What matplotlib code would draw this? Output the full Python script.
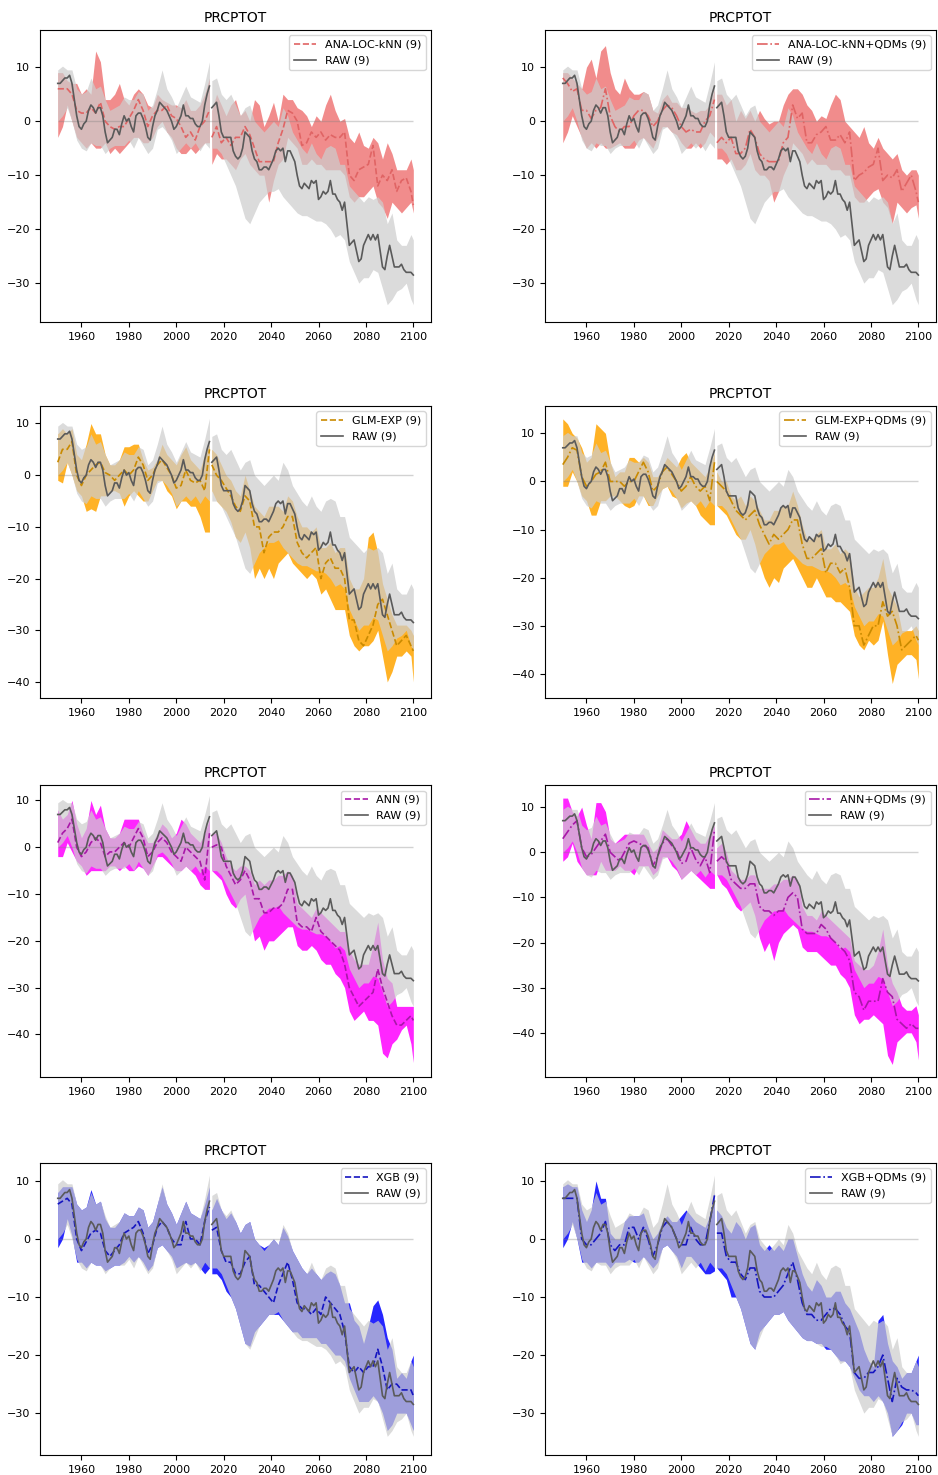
import numpy as np
import matplotlib.pyplot as plt

# year grids (historical run / scenario run are drawn separately)
yrs_h = np.arange(1950, 2015, 2)
yrs_f = np.append(np.arange(2015, 2100, 2), 2100)
raw_yrs_h = np.arange(1950, 2015)
raw_yrs_f = np.arange(2015, 2101)

# RAW ensemble mean (annual)
raw_mean_h = [7, 7, 7.5, 8, 8, 8.5, 7, 4, 1, -1,
              -1.5, -0.5, 0, 2, 3, 2.5, 1.5, 2.5, 2.5, 1,
              -2, -4, -3.5, -3, -1.5, -1.5, -2.5, -0.5, 1, 0,
              0.5, -1, -2, 1, 1.5, 1.5, 0.5, -1, -3, -3.5,
              -1, 1, 2, 3.5, 3, 2.5, 2, 1, 0, -1.5,
              -1, 0, 1, 3, 1, 1, 0.5, 0.5, -0.5, -1,
              -1, 0, 3, 5, 6.5]
raw_mean_f = [2.5, 3, 3.5, 1, -2,
              -3, -3, -3, -3, -5.5, -6.5, -7, -6.5, -5, -2,
              -2.5, -3, -5.5, -7, -7.5, -9, -9, -8.5, -8.5, -9,
              -8, -7, -5.5, -5, -5.5, -5, -7.5, -5.5, -5.5, -6.5,
              -7.5, -10, -12, -12.5, -11.5, -12, -12.5, -11, -11.5, -11,
              -14.5, -14, -13, -13.5, -13, -11, -13.5, -13.5, -14.5, -15,
              -16.5, -15, -19, -23, -22.5, -22, -24, -26, -25.5, -23,
              -22, -21, -22, -21, -22, -21, -24, -27, -27.5, -25,
              -23, -25, -27, -27, -27, -26.5, -27.5, -28, -28, -28,
              -28.5]

# RAW ensemble spread (every 2nd year, hist 33 + future 44 values)
raw_hi = [9.5, 10.2, 9.5, 9.5, 6, 5, 5.5, 8, 6, 6.5, 4, 2, 2.5, 3, 4.5, 4, 4, 5.5, 5, 2,
          3, 6, 9.5, 6, 4.5, 2.5, 4.5, 6.5, 4.5, 4, 3.5, 7, 11,
          7.5, 8, 5, 4, 5, 3, 1, 2.5, 3, 0, -1, -2, -1, 0, -1, 2.5, 1, -2, -3.5, -5,
          -6, -4, -6, -7, -5, -4.5, -5, -8, -8, -12, -13, -14, -15, -14, -14.5, -14, -15, -19, -17, -22,
          -23, -23, -21, -22]
raw_lo = [0, 1, 2.5, 0, -3.5, -5, -5.5, -4, -4.5, -4.5, -6, -5, -4.5, -4.5, -4.5, -3.5, -5, -3, -4.5, -6,
          -5, -1.5, -1, -2, -3.5, -6, -5, -4, -5, -4, -5.5, -4, -5,
          -5, -5, -6, -8, -10, -12, -15, -18, -19, -17, -15, -14, -13, -13, -12.5, -14, -15, -16, -17, -17.5,
          -17.5, -18, -18.5, -18.5, -19, -20, -21.5, -21, -22, -26, -28, -30, -29, -29, -27.5, -28, -31, -34, -33, -31.5,
          -31, -30, -33, -34]

# ANA-LOC-kNN
knn_mean = [6, 6, 6, 5, 2, 1.5, 1.5, 2.5, 1.5, 3.5, 0, -1, -1.5, -1, -1, 0.5, 2, 4, 2, -1,
            1, 2, 2, 3, 1, 0.5, -1, -3, -2, -3.5, -1, 0, 2,
            -3, -1, -4, -3, -4.5, -3, -3, -1, -2.5, -5, -7.5, -7.5, -7.5, -7.5, -4, -1.5, 2, 1.5, 0, -4.5,
            -4, -2, -3, -2, -3.5, -2.5, -3, -3, -2, -10, -11, -9, -8.5, -8, -4.5, -12, -10, -11, -9, -13,
            -11, -10.5, -13, -15.5]
knn_hi = [9, 9, 7.5, 7, 7, 5, 6, 5, 13, 11, 4, 4, 5, 7, 4, 3, 5, 6, 5, 3,
          2.5, 5, 4, 3.5, 3, 3, 2.5, 4, 2, 2, 3, 5, 8,
          2, 5, 3, 1, 3, 4, 1, 2, 0, 4, 3, -1, 1, 3.5, 0, 5, 4, 4, 2.5, 2,
          1, -1, 1, 0, 3, 5, 2, 0, 0.5, -3, -4, -2, -4.5, -5, -3, -4, -7, -4, -6, -9,
          -9, -9, -7, -9]
knn_lo = [-3, -1, 3, 0, -3, -4, -5, -4, -5, -5, -4, -6, -5, -6, -5, -4, -3, -3, -4, -4,
          -3, -1, 0, -2, -3, -5, -6, -6, -5, -6, -5, -4, -4,
          -8, -6, -7, -7, -8, -9, -7, -6, -8, -9, -10, -10, -15, -11, -8, -7, -3, -4, -5, -8,
          -8, -7, -8, -8, -9, -9, -9, -9, -10, -14, -15, -14, -14, -13, -12, -15, -16, -18, -15, -16,
          -17, -16, -15, -17]

# ANA-LOC-kNN+QDMs
knnq_mean = [8, 7, 5.5, 6, 2, 2, 0.5, 2, 2.5, 6, 1, -1, -2, -1, -1, 1, 2, 2, 1, -1,
             0, 2, 3, 2.5, 1, -1, -2, -1.5, -2, -2, 0, 1, 4,
             -4, -3, -4, -3, -6, -6, -5, -1.5, -3, -6, -7, -7.5, -7.5, -7.5, -4, -3, 3, 0.5, 1.5, -4,
             -4, -2.5, -2, -1, -3.5, -3.5, -2.5, -4, -2, -11, -10, -9.5, -8.5, -8, -5, -11, -10, -10.5, -9, -13,
             -11.5, -10, -13, -15]
knnq_hi = [9, 9, 8, 7, 6, 10, 11.5, 8, 13, 14, 9, 6, 5, 8, 6, 5, 5, 5.5, 5, 2,
           1.5, 4, 5, 3.5, 3.5, 2.5, 2.5, 2, 1.5, 2, 2, 3, 6,
           5, 5, 3, 4, 0, 2, 0.5, 2, 0, 2, 0.5, -0.5, 0, 0, 3, 5, 6, 6, 5, 3,
           2, 0, 1, 0.5, 3, 5, 4, 0, -1, -2, -3, -1, -4, -5, -3, -5, -6, -7, -6, -9,
           -10, -9, -9, -10]
knnq_lo = [-4, -2, 1, -1, -3, -5, -4, -5, -4, -5, -5, -4.5, -4, -5, -5, -5, -3.5, -3, -4, -5,
           -3, -1, -1, -2, -2.5, -4, -5, -5, -4, -5, -4, -2, -3,
           -7, -7, -8, -7, -9, -9, -8, -6, -9, -10, -10, -11, -15, -13, -10, -8, -4, -5, -6, -8,
           -7, -8, -8, -8, -9, -9, -9, -10, -10, -14, -15, -15, -14, -13, -12.5, -15, -16, -19, -15, -16,
           -17, -16, -15.5, -18]

# GLM-EXP
glm_mean = [2.5, 5, 5, 6.5, 0, -2, 0, 1, 2, 2.5, 0.5, 0, -1, 0, 1, 0, 1, 3.5, 2, -1,
            0, 2, 3, 1.5, 0, -2.5, -2, 1, -1, -1.5, -1, -3, 5,
            2, 0, -1, -2.5, -4, -6, -7, -4, -5, -10, -10, -15, -12, -11, -11, -10, -8, -8, -13, -15,
            -16, -15, -14, -20, -17, -16, -18, -18, -20, -28, -28, -32, -33, -31, -29, -25, -24, -27, -30, -33,
            -32, -31, -33, -34]
glm_hi = [8, 9, 8, 9, 4, 3, 6, 10, 8, 8, 4, 2, 2, 3, 5.5, 5.5, 6, 6, 3, 1,
          1.5, 3, 6, 4, 3, 2, 4, 5.5, 3, 2, 1, 4, 6,
          5, 4, 2, 0, -1, -3, -4, 0, -3, -6, -7, -8, -6, -6, -6, -7, -4, -5, -8, -10,
          -10, -11, -10, -14, -14, -13, -15, -14, -14, -20, -22, -22, -20, -12, -11, -15, -21, -24, -27, -29,
          -29, -29, -30, -31]
glm_lo = [-1, -1.5, 2.5, 0, -3, -4, -7, -6.5, -7, -4, -4, -3, -3, -3.5, -6, -4, -3, -4, -5, -5,
          -3, -1, -1, -3, -4, -6.5, -5, -5, -6, -6, -8, -11, -11,
          -3, -5, -6, -7, -9, -12, -13, -11, -14, -20, -18, -20, -18, -20, -17, -16, -15, -17, -18, -19,
          -20, -19, -20, -23, -22, -24, -26, -26, -26, -31, -33, -34, -33, -33, -32, -30, -35, -40, -38, -35,
          -35, -34, -35, -40]

# GLM-EXP+QDMs
glmq_mean = [3.5, 5, 7, 6.5, 1, -1, 0, 1.5, 2, 4, 0, 0, 0, -1, 0, 0, 2, 4, 2, -2,
             -1, 2, 3, 1.5, 0, -2, -1, 1, -1, -2, -1, -4, 4,
             0, -1, -2, -4, -6, -7, -8, -7, -6, -9, -11, -13, -11, -12, -11, -10, -8, -8, -13, -16,
             -16, -15, -14, -19, -17, -17, -19, -18, -22, -30, -30, -34, -32, -30, -30, -25, -28, -27, -30, -35,
             -34, -33, -32, -33]
glmq_hi = [13, 12, 10, 9, 7, 4, 5, 12, 11, 10, 4, 1, 2, 2, 5, 5, 4, 5, 4, 1,
           1, 3, 5, 4, 3, 5, 6, 4, 3, 2, 1, 3, 6,
           2, 0, 0, -3, -4, -3, -5, -3, -4, -6, -8, -8, -6, -6, -5, -5, -2, -5, -9, -12,
           -12, -11, -10, -14, -14, -13, -15, -14, -15, -22, -24, -23, -22, -22, -20, -16, -22, -24, -26, -31,
           -31, -31, -30, -31]
glmq_lo = [-1, -1, 2, 0, -3, -4, -7, -7, -4, -4, -3, -3, -4, -5, -5.5, -5, -3, -3, -5, -5,
           -3, -1.5, -1, -3, -3.5, -5.5, -4.5, -4, -5, -7, -8, -9, -9,
           -5, -6, -7, -9, -11, -12, -12, -10, -13, -17, -20, -22, -20, -21, -18, -17, -16, -18, -20, -22,
           -22, -20, -22, -24, -24, -25, -25, -26, -27, -32, -34, -35, -33, -34, -33, -29, -36, -42, -38, -37,
           -36, -36, -37, -41]

# ANN
ann_mean = [1, 3, 4, 6, 0, -2, -1, 1, 2, 1, -2, -1, -1, 0, 1, 0, 2, 4, 2, -2,
            -1, 1, 2, 1, -1, -2, -3, 0, -1, -2, -3, -7, 3,
            0, 0.5, 0, -4, -6, -8, -7, -5, -7, -11, -11, -14, -14, -13, -13, -12, -9, -9, -16, -17,
            -17, -18, -15, -18, -19, -20, -21, -22, -25, -30, -32, -34, -33, -32, -31, -26, -30, -33, -36, -38,
            -38, -37, -36, -37]
ann_hi = [8, 6, 7, 10, 5, 2, 4, 10, 7, 9, 4, 2, 2, 3, 6, 6, 6, 6, 3, 1,
          1, 3, 5, 4, 2, 3, 6, 5, 3, 2, 1, 3, 6,
          3, 3, 1, -2, -4, -5, -4, -4, -5, -8, -7, -8, -7, -7, -6, -6, -5, -6, -12, -13,
          -14, -15, -13, -14, -15, -16, -17, -18, -18, -22, -24, -25, -25, -25, -21, -16, -24, -28, -29, -34,
          -34, -34, -34, -34]
ann_lo = [-2, -2, 1, -1, -3, -4, -6, -5, -5, -5, -5, -4, -4, -5, -4, -5, -5, -4, -4.5, -6,
          -4, -2, -2, -3, -4, -5, -5, -4, -5, -6, -8, -9, -9,
          -5, -6, -7, -10, -12, -13, -11, -10, -15, -20, -19, -22, -20, -20, -19, -18, -17, -17, -21, -22,
          -22, -21, -22, -24, -25, -25, -27, -28, -30, -35, -37, -36, -35, -37, -37, -38, -44, -45, -42, -41,
          -39, -38, -42, -46]

# ANN+QDMs
annq_mean = [3, 4.5, 6, 7, 1, -1, -0.5, 1, 2.5, 4, 0, -1, -2, 0, 2, 2.5, 2, 1.5, 1, -3,
             -1, 2, 3, 1.5, 0.5, -2.5, -2, 1, -1.5, -3, -1, -4.5, 5,
             -2, -1, -2, -6, -7, -8, -8, -7, -7, -12, -13, -13, -14, -13, -13, -10, -9, -10, -17, -18,
             -18, -18, -16, -17, -19, -20, -21, -22, -24, -31, -32, -35, -33, -33, -33, -28, -31, -32, -37, -38,
             -39, -38, -39, -39]
annq_hi = [12, 12, 9, 8, 10, 6, 3, 11, 11, 9, 3, 2, 3, 4, 4, 4, 4, 4, 2, 0,
           1, 5, 4, 3, 3, 4, 7, 5, 3, 2, 2, 4, 6,
           1, 2, 0, -4, -5, -6, -6, -5, -5, -8, -8, -8, -7, -7, -6, -6, -5, -6, -12, -14,
           -14, -15, -13, -14, -15, -16, -17, -18, -19, -24, -25, -26, -26, -25, -22, -17, -25, -29, -31, -34,
           -35, -35, -34, -36]
annq_lo = [-2, -1, 2, -2, -3.5, -5, -5, -5, -2, -4, -4, -4, -3, -4, -4, -5, -3, -3, -3, -5,
           -4, -1, -1, -3, -4, -6, -5, -4, -5, -6, -7, -8, -8,
           -5, -7, -8, -10, -12, -13, -12, -11, -14, -19, -22, -20, -24, -20, -18, -17, -16, -17, -21, -22,
           -22, -22, -23, -24, -25, -25, -27, -28, -30, -36, -38, -37, -37, -36, -37, -38, -45, -47, -42, -41,
           -40, -40, -42, -46]

# XGB
xgb_mean = [6, 6.5, 7, 6, 0, -2, -0.5, 1, 1.5, 1, -2, -3, -2, -1, 1, 1.5, 2, 3, 1, -2.5,
            -1, 2, 3, 2, 0, -1, -1, 3, 0, 0, -1, 3, 5.5,
            1.5, 2, -2, -4, -4, -6, -6, -4, -3, -8, -8, -9, -10, -11, -8, -6, -4, -7, -11, -12,
            -12, -13, -12, -13, -10, -11, -12, -13, -16, -22, -23, -22, -23, -22, -22, -19, -22, -26, -25, -25,
            -26, -26, -26, -27]
xgb_hi = [8, 9, 9, 9, 6, 5, 5.5, 8.5, 6, 6.5, 3.5, 2, 2, 3, 4.5, 4, 4, 5.5, 5, 2,
          3, 6, 9, 6, 4.5, 2.5, 4.5, 6.5, 4.5, 4, 3.5, 6, 9,
          5, 7, 5, 3.5, 4.5, 3, 1, 2.5, 3, 0, -1, -1.5, -1, 0, -1, 2, 0.5, -2, -3.5, -5,
          -6, -5, -6, -7, -6, -5.5, -6, -8, -11, -11, -14, -15, -18, -15, -11.5, -10.5, -13, -17, -19, -24,
          -23, -24, -21, -20]
xgb_lo = [-1.5, 0, 3.5, 0.5, -4, -4, -5, -4, -4.5, -4.5, -5.5, -5, -4.5, -4.5, -4, -3, -4, -3, -4, -5.5,
          -4.5, -1.5, -1, -2, -3, -5, -4.5, -4, -4.5, -4, -5, -6, -5,
          -6, -6, -7, -9, -10, -12, -15, -18, -18.5, -16, -15, -14, -13, -13, -13, -14, -15, -16, -16, -17,
          -17, -17, -17, -18, -18, -19, -20, -20, -21, -24, -26, -28, -28, -28, -27, -28, -30, -33, -32, -30,
          -30, -30, -32, -33]

# XGB+QDMs
xgbq_mean = [7, 7, 7, 7, 0, -1, -1, 0, 1, 3, -1, -2, -1, -1, 2, 2, 0, 2, 0, -3,
             -1, 2, 3, 2, 0, -1, -1, 2, 0, -1, -1, 3, 7.5,
             1, 1, -3, -4, -4, -6, -7, -5, -5, -9, -10, -10, -10, -9, -8, -6, -4, -7, -11, -13,
             -13, -14, -14, -13, -12, -12, -13, -15, -16, -23, -24, -24, -23, -23, -22, -20, -24, -28, -24, -25.5,
             -26, -26, -26.5, -27]
xgbq_hi = [9, 9.5, 9, 9, 5, 3, 5, 10, 7, 7, 1, 0, 0, 3, 4, 4, 4, 4.5, 2, 0,
           1, 3, 4, 3, 3, 4, 5, 4, 3, 2.5, 2, 4, 8,
           5, 4, 2, 1, 3, 2, 0, 2, 2.5, -1, -2, -1, -2, -1, -2, 0, 0, -3, -6, -8,
           -9, -7, -8, -10, -10, -9, -9, -11, -12, -14, -16, -19, -21, -22, -14, -13, -18, -21, -22, -24,
           -23, -23, -21, -20]
xgbq_lo = [-1.5, 0, 3, 0, -4, -4, -5, -4, -4, -4, -5, -4, -4, -4, -3.5, -4, -4, -3, -4, -5,
           -4, -1.5, -1, -2, -3, -5, -3, -3, -4, -5, -6, -6, -5.5,
           -5, -6, -7, -10, -10, -12, -15, -18, -19, -16, -15, -14, -13, -13, -12.5, -14, -15, -16, -17, -17.5,
           -17.5, -18, -18, -19, -19, -20, -21, -21, -22, -24, -26, -27, -27, -28, -27, -28, -30, -34, -33, -32,
           -30, -30, -32, -32]

panels = [
    ("ANA-LOC-kNN (9)", "--", "lightcoral", 0.9, "#e06464", knn_mean, knn_lo, knn_hi, (-37.2, 16.9)),
    ("ANA-LOC-kNN+QDMs (9)", "-.", "lightcoral", 0.9, "#e06464", knnq_mean, knnq_lo, knnq_hi, (-37.2, 16.9)),
    ("GLM-EXP (9)", "--", "orange", 0.85, "#c98a00", glm_mean, glm_lo, glm_hi, (-43.1, 13.4)),
    ("GLM-EXP+QDMs (9)", "-.", "orange", 0.85, "#c98a00", glmq_mean, glmq_lo, glmq_hi, (-45.0, 15.7)),
    ("ANN (9)", "--", "magenta", 0.85, "#a818a8", ann_mean, ann_lo, ann_hi, (-49.1, 13.3)),
    ("ANN+QDMs (9)", "-.", "magenta", 0.85, "#a818a8", annq_mean, annq_lo, annq_hi, (-49.8, 14.9)),
    ("XGB (9)", "--", "blue", 0.85, "#1414c0", xgb_mean, xgb_lo, xgb_hi, (-37.2, 13.1)),
    ("XGB+QDMs (9)", "-.", "blue", 0.85, "#1414c0", xgbq_mean, xgbq_lo, xgbq_hi, (-37.2, 13.1)),
]

fig = plt.figure(figsize=(9.38, 14.75), dpi=100)
lefts = [0.0426, 0.581]
bottoms = [0.7817, 0.5268, 0.2698, 0.0136]
n = len(yrs_h)

for i, (label, ls, fc, fa, lc, mean, lo, hi, ylim) in enumerate(panels):
    ax = fig.add_axes([lefts[i % 2], bottoms[i // 2], 0.417, 0.198])
    # method spread
    ax.fill_between(yrs_h, lo[:n], hi[:n], color=fc, alpha=fa, lw=0)
    ax.fill_between(yrs_f, lo[n:], hi[n:], color=fc, alpha=fa, lw=0)
    # raw spread on top
    ax.fill_between(yrs_h, raw_lo[:n], raw_hi[:n], color="#cdcdcd", alpha=0.72, lw=0)
    ax.fill_between(yrs_f, raw_lo[n:], raw_hi[n:], color="#cdcdcd", alpha=0.72, lw=0)
    ax.hlines(0, 1950, 2100, color="gray", alpha=0.35, lw=1)
    l1, = ax.plot(yrs_h, mean[:n], ls=ls, color=lc, lw=1.2, label=label)
    ax.plot(yrs_f, mean[n:], ls=ls, color=lc, lw=1.2)
    l2, = ax.plot(raw_yrs_h, raw_mean_h, color="#5a5a5a", lw=1.2, label="RAW (9)")
    ax.plot(raw_yrs_f, raw_mean_f, color="#5a5a5a", lw=1.2)
    ax.set_xlim(1942.5, 2107.5)
    ax.set_ylim(*ylim)
    ax.set_xticks(range(1960, 2101, 20))
    ax.set_yticks(range(-40, 11, 10) if ylim[0] < -40 else range(-30, 11, 10))
    ax.tick_params(labelsize=8)
    ax.set_title("PRCPTOT", fontsize=10)
    ax.legend(handles=[l1, l2], loc="upper right", fontsize=8)

fig.savefig("out.png", dpi=100)
